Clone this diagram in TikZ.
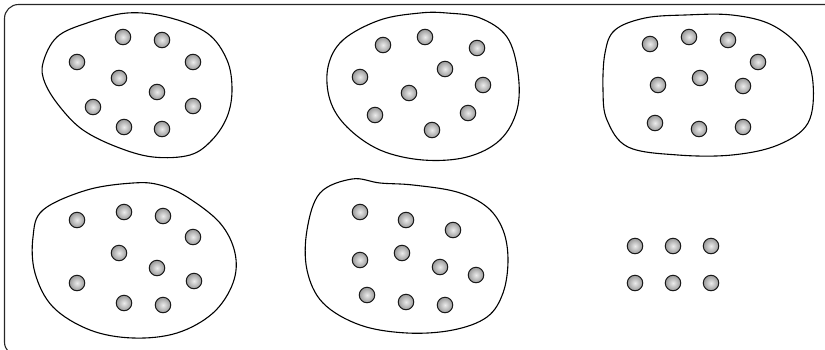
\documentclass[tikz,border=0pt]{standalone}
\usepackage{tikz}

\begin{document}
\begin{tikzpicture}[x=1pt,y=-1pt,ball/.style={circle,draw=black!90,line width=1pt,inner sep=0pt,minimum size=15.5pt,inner color=gray!15,outer color=gray!80},blob/.style={draw=black,line width=1.1pt},frame/.style={draw=black!85,line width=1.1pt,rounded corners=14pt}]
\useasboundingbox (0,0) rectangle (825,349);
\draw[frame] (4.5,4.5) rectangle (860,356);
% top row
\draw[blob] plot[smooth cycle,tension=0.6] coordinates {(127,13) (167,17) (207,33) (227,60) (232,90) (227,117) (212,140) (190,155) (153,157) (117,147) (83,130) (60,107) (45,83) (43,63) (57,37) (87,23)};
\foreach \x/\y [count=\i] in {123/37,162/40,77/62,193/62,119/78,157/92,93/107,193/106,124/127,162/129}
  \node[ball] (a\i) at (\x,\y) {};
\draw[blob] plot[smooth cycle,tension=0.6] coordinates {(420,13) (447,13) (480,18) (507,37) (518,73) (517,110) (500,140) (467,157) (423,160) (380,150) (347,127) (330,100) (328,67) (343,40) (380,20)};
\foreach \x/\y [count=\i] in {383/45,425/37,477/48,360/77,445/69,483/85,409/93,375/115,468/113,432/130}
  \node[ball] (b\i) at (\x,\y) {};
\draw[blob] plot[smooth cycle,tension=0.6] coordinates {(685,15) (732,15) (772,25) (802,50) (813,83) (808,123) (778,145) (732,155) (678,155) (628,147) (607,120) (603,90) (605,53) (615,30) (645,18)};
\foreach \x/\y [count=\i] in {650/44,689/37,728/40,758/62,700/78,658/85,743/86,655/123,699/129,743/127}
  \node[ball] (c\i) at (\x,\y) {};
% bottom row
\draw[blob] plot[smooth cycle,tension=0.6] coordinates {(133,183) (160,185) (187,197) (220,223) (235,253) (233,283) (213,313) (177,333) (133,338) (90,330) (53,307) (35,273) (33,237) (43,210) (87,190)};
\foreach \x/\y [count=\i] in {77/220,124/212,163/216,193/237,119/253,157/268,77/283,194/281,124/303,163/305}
  \node[ball] (d\i) at (\x,\y) {};
\draw[blob] plot[smooth cycle,tension=0.6] coordinates {(352,179) (380,183) (413,185) (457,192) (487,207) (503,230) (508,260) (503,293) (487,317) (453,330) (407,333) (360,325) (323,303) (307,270) (307,230) (320,193)};
\foreach \x/\y [count=\i] in {360/212,406/220,453/230,360/260,402/253,440/267,476/275,367/295,406/302,445/305}
  \node[ball] (e\i) at (\x,\y) {};
\foreach \x/\y [count=\i] in {635/246,673/246,711/246,635/283,673/283,711/283}
  \node[ball] (f\i) at (\x,\y) {};
\end{tikzpicture}
\end{document}
